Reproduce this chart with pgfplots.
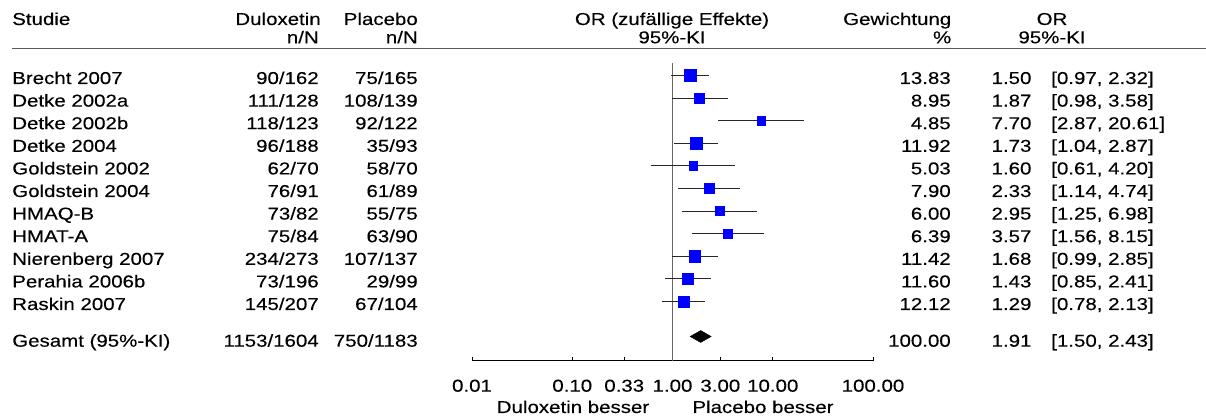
\documentclass[border=0pt]{standalone}
\usepackage{pgfplots}
\pgfplotsset{compat=1.18}
\usepackage{fontspec}
\setmainfont[FakeStretch=1.19, FakeBold=0.25]{Liberation Sans}
\newcommand{\ff}{\fontsize{12.9pt}{15pt}\selectfont}
\begin{document}
\ff
\begin{tikzpicture}
\useasboundingbox (0,0) rectangle (904.5pt,312pt);
\begin{axis}[at={(354pt,41.25pt)}, anchor=south west, scale only axis,
  width=300.75pt, height=223.5pt,
  xmode=log, log basis x=10, xmin=0.01, xmax=100, ymin=55, ymax=353,
  axis x line=bottom, axis y line=none, axis line style={-, line width=0.75pt, black},
  xtick={0.01,0.1,0.33,1,3,10,100},
  xticklabels={0.01,0.10,0.33,1.00,3.00,10.00,100.00},
  minor xtick={}, tick align=inside, major tick length=3pt,
  every tick/.style={black, line width=0.75pt},
  xticklabel style={anchor=base, yshift=-23pt, inner sep=0pt, font=\ff},
  clip=false]
% null line
\addplot[gray!80!black, line width=1pt] coordinates {(1,55) (1,353)};
% study squares (OR, y) with size from weight
\addplot[only marks, mark=square*, blue, mark options={draw=none, fill=blue}, mark size=4.57pt] coordinates {(1.50,340.5)};
\addplot[only marks, mark=square*, blue, mark options={draw=none, fill=blue}, mark size=3.76pt] coordinates {(1.87,317.9)};
\addplot[only marks, mark=square*, blue, mark options={draw=none, fill=blue}, mark size=3.09pt] coordinates {(7.70,295.3)};
\addplot[only marks, mark=square*, blue, mark options={draw=none, fill=blue}, mark size=4.25pt] coordinates {(1.73,272.7)};
\addplot[only marks, mark=square*, blue, mark options={draw=none, fill=blue}, mark size=3.12pt] coordinates {(1.60,250.1)};
\addplot[only marks, mark=square*, blue, mark options={draw=none, fill=blue}, mark size=3.59pt] coordinates {(2.33,227.5)};
\addplot[only marks, mark=square*, blue, mark options={draw=none, fill=blue}, mark size=3.28pt] coordinates {(2.95,204.9)};
\addplot[only marks, mark=square*, blue, mark options={draw=none, fill=blue}, mark size=3.34pt] coordinates {(3.57,182.3)};
\addplot[only marks, mark=square*, blue, mark options={draw=none, fill=blue}, mark size=4.17pt] coordinates {(1.68,159.7)};
\addplot[only marks, mark=square*, blue, mark options={draw=none, fill=blue}, mark size=4.20pt] coordinates {(1.43,137.1)};
\addplot[only marks, mark=square*, blue, mark options={draw=none, fill=blue}, mark size=4.29pt] coordinates {(1.29,114.5)};
% confidence intervals
\addplot[black!85, line width=0.8pt] coordinates {(0.97,340.5) (2.32,340.5)};
\addplot[black!85, line width=0.8pt] coordinates {(0.98,317.9) (3.58,317.9)};
\addplot[black!85, line width=0.8pt] coordinates {(2.87,295.3) (20.61,295.3)};
\addplot[black!85, line width=0.8pt] coordinates {(1.04,272.7) (2.87,272.7)};
\addplot[black!85, line width=0.8pt] coordinates {(0.61,250.1) (4.20,250.1)};
\addplot[black!85, line width=0.8pt] coordinates {(1.14,227.5) (4.74,227.5)};
\addplot[black!85, line width=0.8pt] coordinates {(1.25,204.9) (6.98,204.9)};
\addplot[black!85, line width=0.8pt] coordinates {(1.56,182.3) (8.15,182.3)};
\addplot[black!85, line width=0.8pt] coordinates {(0.99,159.7) (2.85,159.7)};
\addplot[black!85, line width=0.8pt] coordinates {(0.85,137.1) (2.41,137.1)};
\addplot[black!85, line width=0.8pt] coordinates {(0.78,114.5) (2.13,114.5)};
% pooled diamond
\addplot[fill=black, draw=black, line width=0.3pt] coordinates {(1.50,79.5) (1.91,85.5) (2.43,79.5) (1.91,73.5)} -- cycle;
\end{axis}
\begin{scope}[x=0.75pt, y=0.75pt, every node/.style={inner sep=0pt, font=\ff}]
% header
\node[anchor=base west] at (12,391) {Studie};
\node[anchor=base east] at (321,391) {Duloxetin};
\node[anchor=base east] at (319,372.7) {n/N};
\node[anchor=base east] at (418,391) {Placebo};
\node[anchor=base east] at (418,372.7) {n/N};
\node[anchor=base] at (672,391) {OR (zufällige Effekte)};
\node[anchor=base] at (672,372.7) {95\%-KI};
\node[anchor=base east] at (951.5,391) {Gewichtung};
\node[anchor=base east] at (951.5,372.7) {\%};
\node[anchor=base] at (1052,391) {OR};
\node[anchor=base] at (1052,372.7) {95\%-KI};
\draw[gray!70!black, line width=1pt] (12,367.7) -- (1206,367.7);
% rows
\foreach \n/\d/\p/\w/\o/\c [count=\i from 0] in {
 Brecht 2007/90\slash 162/75\slash 165/13.83/1.50/{[0.97, 2.32]},
 Detke 2002a/111\slash 128/108\slash 139/8.95/1.87/{[0.98, 3.58]},
 Detke 2002b/118\slash 123/92\slash 122/4.85/7.70/{[2.87, 20.61]},
 Detke 2004/96\slash 188/35\slash 93/11.92/1.73/{[1.04, 2.87]},
 Goldstein 2002/62\slash 70/58\slash 70/5.03/1.60/{[0.61, 4.20]},
 Goldstein 2004/76\slash 91/61\slash 89/7.90/2.33/{[1.14, 4.74]},
 HMAQ-B/73\slash 82/55\slash 75/6.00/2.95/{[1.25, 6.98]},
 HMAT-A/75\slash 84/63\slash 90/6.39/3.57/{[1.56, 8.15]},
 Nierenberg 2007/234\slash 273/107\slash 137/11.42/1.68/{[0.99, 2.85]},
 Perahia 2006b/73\slash 196/29\slash 99/11.60/1.43/{[0.85, 2.41]},
 Raskin 2007/145\slash 207/67\slash 104/12.12/1.29/{[0.78, 2.13]}}
{
 \pgfmathsetmacro{\yy}{332-22.6*\i}
 \node[anchor=base west] at (12,\yy) {\n};
 \node[anchor=base east] at (319,\yy) {\d};
 \node[anchor=base east] at (418,\yy) {\p};
 \node[anchor=base east] at (951,\yy) {\w};
 \node[anchor=base east] at (1031.7,\yy) {\o};
 \node[anchor=base west] at (1051,\yy) {\c};
}
\node[anchor=base west] at (12,69.3) {Gesamt (95\%-KI)};
\node[anchor=base east] at (319,69.3) {1153/1604};
\node[anchor=base east] at (418,69.3) {750/1183};
\node[anchor=base east] at (951,69.3) {100.00};
\node[anchor=base east] at (1031.7,69.3) {1.91};
\node[anchor=base west] at (1051,69.3) {[1.50, 2.43]};
% direction labels
\node[anchor=base] at (573,3) {Duloxetin besser};
\node[anchor=base] at (763,3) {Placebo besser};
\end{scope}
\end{tikzpicture}
\end{document}
